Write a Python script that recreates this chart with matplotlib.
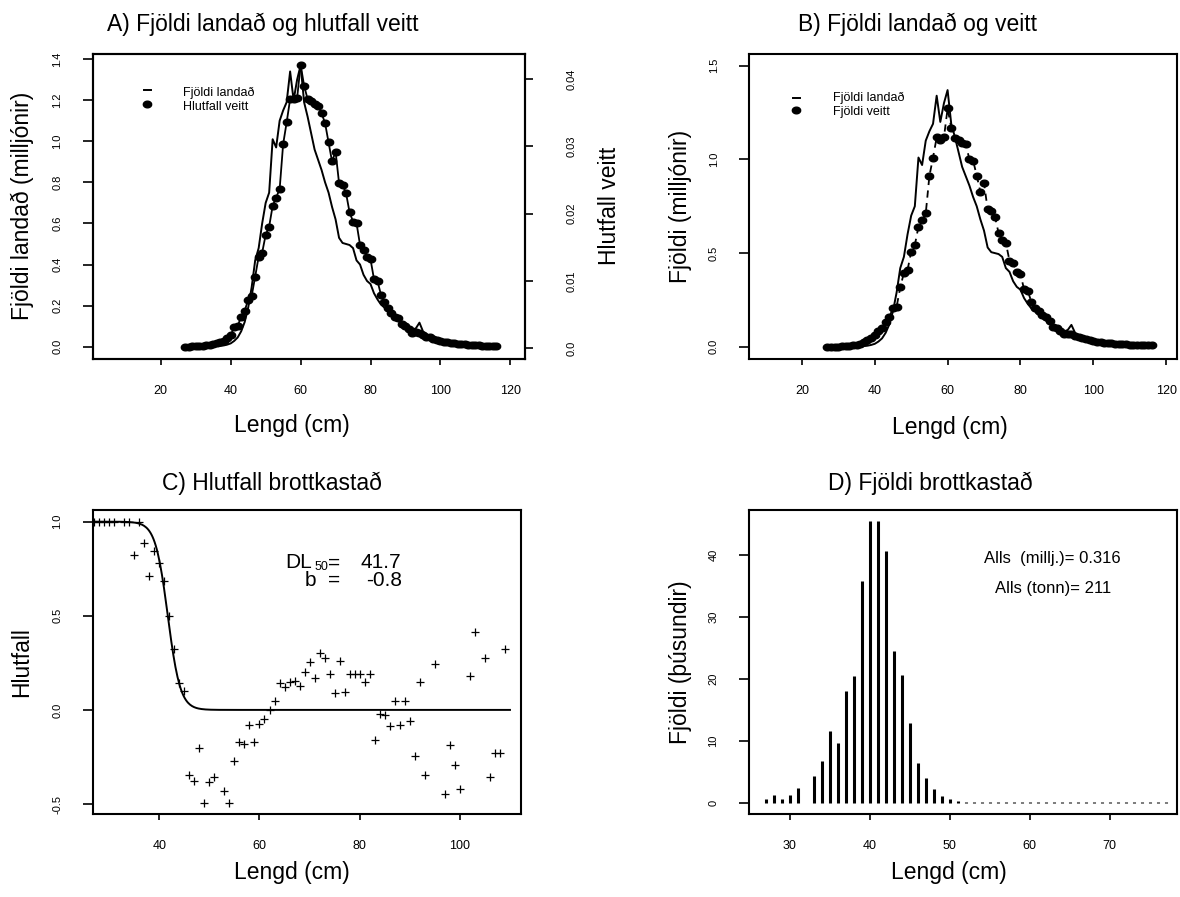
import numpy as np
import matplotlib.pyplot as plt
from matplotlib.path import Path
from matplotlib.lines import Line2D

plt.rcParams['font.family'] = ['Liberation Sans', 'DejaVu Sans']

# ---- gögn lesin af myndinni ----
lengd = list(range(27, 117))

# A/B: fjöldi landað (milljónir)
landad = [0.0, 0.0, 0.0, 0.0, 0.0, 0.001, 0.001, 0.002, 0.002, 0.003,
          0.004, 0.006, 0.010, 0.016, 0.028, 0.045, 0.075, 0.12, 0.19, 0.29,
          0.42, 0.48, 0.60, 0.70, 0.75, 1.01, 0.97, 1.10, 1.15, 1.19,
          1.34, 1.20, 1.30, 1.37, 1.19, 1.12, 1.04, 0.96, 0.91, 0.86,
          0.80, 0.75, 0.68, 0.62, 0.53, 0.505, 0.50, 0.495, 0.48, 0.42,
          0.40, 0.35, 0.32, 0.305, 0.26, 0.23, 0.205, 0.19, 0.17, 0.155,
          0.14, 0.125, 0.112, 0.10, 0.09, 0.082, 0.09, 0.117, 0.075, 0.06,
          0.05, 0.043, 0.037, 0.032, 0.028, 0.024, 0.02, 0.017, 0.015, 0.012,
          0.01, 0.008, 0.006, 0.005, 0.004, 0.004, 0.003, 0.003, 0.002, 0.002]

# A: hlutfall veitt
hlutfall_veitt = [0.00025, 0.00025, 0.0003, 0.0003, 0.00035, 0.0004, 0.00045, 0.00054, 0.00064, 0.00074,
                  0.00094, 0.00114, 0.00149, 0.00198, 0.00312, 0.00332, 0.0047, 0.0056, 0.00718, 0.00778,
                  0.01065, 0.01362, 0.01421, 0.01684, 0.01808, 0.02115, 0.02239, 0.02363, 0.03031, 0.03353,
                  0.0370, 0.0370, 0.03715, 0.0421, 0.0390, 0.0370, 0.03665, 0.0363, 0.0360, 0.0349,
                  0.03343, 0.03056, 0.02774, 0.02922, 0.02452, 0.02427, 0.02303, 0.02021, 0.01882, 0.01857,
                  0.01535, 0.01461, 0.01362, 0.01322, 0.01025, 0.0100, 0.00792, 0.00693, 0.00594, 0.0052,
                  0.0047, 0.00446, 0.00357, 0.00332, 0.00282, 0.00233, 0.00248, 0.00223, 0.00198, 0.00173,
                  0.00163, 0.00144, 0.00129, 0.00114, 0.00099, 0.00094, 0.00084, 0.00074, 0.00069, 0.00064,
                  0.00059, 0.00054, 0.0005, 0.00047, 0.00044, 0.00041, 0.00039, 0.00037, 0.00036, 0.00035]

# B: fjöldi veitt (milljónir)
fjoldi_veitt = [0.0, 0.0, 0.0, 0.001, 0.002, 0.004, 0.006, 0.0074, 0.011, 0.016,
                0.025, 0.035, 0.045, 0.063, 0.085, 0.098, 0.13, 0.16, 0.205, 0.214,
                0.317, 0.395, 0.41, 0.507, 0.543, 0.641, 0.676, 0.712, 0.911, 1.01,
                1.117, 1.103, 1.117, 1.272, 1.17, 1.112, 1.103, 1.09, 1.08, 1.0,
                0.994, 0.914, 0.826, 0.875, 0.733, 0.726, 0.694, 0.608, 0.569, 0.555,
                0.459, 0.445, 0.40, 0.391, 0.306, 0.30, 0.24, 0.205, 0.192, 0.17,
                0.16, 0.139, 0.107, 0.103, 0.085, 0.07, 0.071, 0.066, 0.06, 0.052,
                0.048, 0.04, 0.036, 0.032, 0.028, 0.026, 0.022, 0.02, 0.018, 0.017,
                0.015, 0.014, 0.013, 0.012, 0.011, 0.011, 0.010, 0.010, 0.010, 0.010]

# C: hlutfall brottkastað
c_lengd = [27, 28, 29, 30, 31, 33, 34, 35, 36, 37, 38, 39, 40, 41, 42, 43, 44, 45,
           46, 47, 48, 49, 50, 51, 53, 54, 55, 56, 57, 58, 59, 60, 61, 62, 63, 64,
           65, 66, 67, 68, 69, 70, 71, 72, 73, 74, 75, 76, 77, 78, 79, 80, 81, 82,
           83, 84, 85, 86, 87, 88, 89, 90, 91, 92, 93, 95, 97, 98, 99, 100, 102, 103,
           105, 106, 107, 108, 109]
c_hlutfall = [1.0, 1.0, 1.0, 1.0, 1.0, 1.0, 1.0, 0.823, 1.0, 0.888, 0.712, 0.846, 0.782,
              0.687, 0.499, 0.322, 0.145, 0.099, -0.345, -0.377, -0.205, -0.496, -0.384,
              -0.354, -0.430, -0.494, -0.271, -0.170, -0.179, -0.080, -0.170, -0.076, -0.048,
              0.0, 0.048, 0.145, 0.124, 0.150, 0.154, 0.127, 0.202, 0.255, 0.170, 0.304,
              0.278, 0.191, 0.088, 0.260, 0.096, 0.193, 0.193, 0.193, 0.147, 0.193, -0.159,
              -0.023, -0.027, -0.088, 0.048, -0.080, 0.048, -0.057, -0.244, 0.149, -0.345,
              0.244, -0.446, -0.186, -0.292, -0.421, 0.179, 0.412, 0.274, -0.354, -0.228,
              -0.228, 0.324]
DL50 = 41.7
b_halli = -0.8

# D: fjöldi brottkastað (þúsundir)
d_lengd = list(range(27, 78))
d_fjoldi = [0.65, 1.34, 0.65, 1.34, 2.47, 0.0, 4.4, 6.83, 11.67, 9.73,
            18.06, 20.43, 35.8, 45.5, 45.5, 40.6, 24.57, 20.7, 12.9, 6.45,
            4.03, 2.3, 1.13, 0.65, 0.3, 0.2, 0.2, 0.15, 0.15, 0.15,
            0.15, 0.15, 0.15, 0.15, 0.15, 0.15, 0.15, 0.15, 0.15, 0.15,
            0.15, 0.15, 0.15, 0.15, 0.15, 0.15, 0.15, 0.15, 0.15, 0.15, 0.15]
alls_millj = 0.316
alls_tonn = 211

# ---- uppsetning ----
W, H = 1180, 897
fig = plt.figure(figsize=(W / 100, H / 100), dpi=100)
FS_LAB = 16.5


def rect(l, t, r, b):
    return [l / W, 1 - b / H, (r - l) / W, (b - t) / H]


def ftext(x, y, s, **kw):
    kw.setdefault('ha', 'center')
    kw.setdefault('va', 'center')
    fig.text(x / W, 1 - y / H, s, **kw)


def fdash(x0, x1, y):
    fig.add_artist(Line2D([x0 / W, x1 / W], [1 - y / H, 1 - y / H], color='k', lw=1.4))


def fdot(x, y):
    fig.add_artist(Line2D([x / W], [1 - y / H], marker=dot, ms=6, color='k', ls='none'))


th = np.linspace(0, 2 * np.pi, 40)
dot = Path(np.column_stack([1.25 * np.cos(th), np.sin(th)]))


def style(ax, xt, yt, ylab):
    for s in ax.spines.values():
        s.set_linewidth(1.5)
    ax.set_xticks(xt)
    ax.set_xticklabels([str(t) for t in xt], fontsize=9)
    ax.set_yticks(yt)
    ax.set_yticklabels(ylab, fontsize=8, rotation=90, va='center')
    ax.tick_params(axis='x', length=4.5, width=1.2, pad=14)
    ax.tick_params(axis='y', length=7, width=1.2, pad=15)


# A
axA = fig.add_axes(rect(93, 54, 525, 359))
axA.plot(lengd, landad, color='k', lw=1.4)
axA.set_xlim(0.6, 124.2)
axA.set_ylim(-0.06, 1.425)
style(axA, [20, 40, 60, 80, 100, 120], [0, 0.2, 0.4, 0.6, 0.8, 1.0, 1.2, 1.4],
      ['0.0', '0.2', '0.4', '0.6', '0.8', '1.0', '1.2', '1.4'])
axA2 = axA.twinx()
axA2.plot(lengd, hlutfall_veitt, color='k', lw=1.3, marker=dot, ms=6)
axA2.set_ylim(-0.00159, 0.0437)
axA2.set_yticks([0, 0.01, 0.02, 0.03, 0.04])
axA2.set_yticklabels(['0.0', '0.01', '0.02', '0.03', '0.04'], fontsize=8, rotation=90, va='center')
axA2.tick_params(axis='y', length=6, width=1.2, pad=24)
for s in axA2.spines.values():
    s.set_linewidth(1.5)
fdash(144, 151, 90)
fdot(147, 104)
ftext(183, 93, 'Fjöldi landað', fontsize=9, ha='left')
ftext(183, 107, 'Hlutfall veitt', fontsize=9, ha='left')
ftext(263, 24, 'A) Fjöldi landað og hlutfall veitt', fontsize=FS_LAB)
ftext(292, 425, 'Lengd (cm)', fontsize=FS_LAB)
ftext(22, 206, 'Fjöldi landað (milljónir)', fontsize=FS_LAB, rotation=90)
ftext(610, 206, 'Hlutfall veitt', fontsize=FS_LAB, rotation=90)

# B
axB = fig.add_axes(rect(749.5, 54, 1177, 359))
axB.plot(lengd, landad, color='k', lw=1.4)
axB.plot(lengd, fjoldi_veitt, color='k', lw=1.3, ls=(0, (4, 3)), marker=dot, ms=6)
axB.set_xlim(5.6, 123.0)
axB.set_ylim(-0.065, 1.5625)
style(axB, [20, 40, 60, 80, 100, 120], [0, 0.5, 1.0, 1.5], ['0.0', '0.5', '1.0', '1.5'])
fdash(793, 800, 97.7)
fdot(796, 110)
ftext(833, 98, 'Fjöldi landað', fontsize=9, ha='left')
ftext(833, 112, 'Fjöldi veitt', fontsize=9, ha='left')
ftext(917, 24, 'B) Fjöldi landað og veitt', fontsize=FS_LAB)
ftext(950, 427, 'Lengd (cm)', fontsize=FS_LAB)
ftext(681, 206, 'Fjöldi (milljónir)', fontsize=FS_LAB, rotation=90)

# C
axC = fig.add_axes(rect(93, 510, 521, 814))
axC.plot(c_lengd, c_hlutfall, ls='none', marker='+', ms=5.5, mew=0.9, color='k')
xs = np.linspace(27, 110, 400)
axC.plot(xs, 1 / (1 + np.exp(-b_halli * (xs - DL50))), color='k', lw=1.4)
axC.set_xlim(26.77, 112.2)
axC.set_ylim(-0.553, 1.062)
style(axC, [40, 60, 80, 100], [-0.5, 0, 0.5, 1.0], ['-0.5', '0.0', '0.5', '1.0'])
ftext(285, 563, 'DL', fontsize=15, ha='left')
ftext(315, 567, '50', fontsize=9, ha='left')
ftext(334, 563, '=', fontsize=15)
ftext(401, 563, f'{DL50}', fontsize=15, ha='right')
ftext(310, 580, 'b', fontsize=15)
ftext(334, 580, '=', fontsize=15)
ftext(402, 580, f'{b_halli}', fontsize=15, ha='right')
ftext(272, 483, 'C) Hlutfall brottkastað', fontsize=FS_LAB)
ftext(292, 872, 'Lengd (cm)', fontsize=FS_LAB)
ftext(22, 662, 'Hlutfall', fontsize=FS_LAB, rotation=90)

# D
axD = fig.add_axes(rect(749, 510, 1177, 814))
axD.vlines(d_lengd, 0, d_fjoldi, color='k', lw=2.2)
axD.set_xlim(24.9, 78.4)
axD.set_ylim(-1.72, 47.25)
style(axD, [30, 40, 50, 60, 70], [0, 10, 20, 30, 40], ['0', '10', '20', '30', '40'])
ftext(1052, 558, f'Alls  (millj.)= {alls_millj}', fontsize=12)
ftext(1053, 589, f'Alls (tonn)= {alls_tonn}', fontsize=12)
ftext(930, 483, 'D) Fjöldi brottkastað', fontsize=FS_LAB)
ftext(949, 872, 'Lengd (cm)', fontsize=FS_LAB)
ftext(681, 662, 'Fjöldi (þúsundir)', fontsize=FS_LAB, rotation=90)

fig.savefig('out.png', dpi=100)
